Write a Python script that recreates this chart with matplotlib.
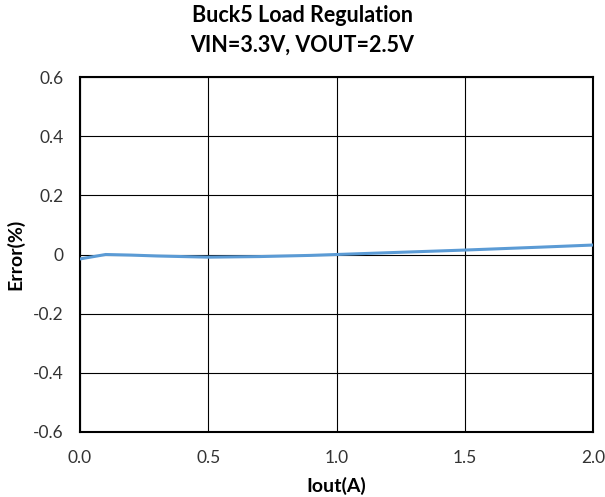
import matplotlib
matplotlib.use("Agg")
import matplotlib.pyplot as plt

plt.rcParams['font.family'] = ['Lato', 'DejaVu Sans']

iout = [0.0, 0.1, 0.2, 0.3, 0.5, 0.7, 0.9, 1.0, 1.2, 1.5, 1.8, 2.0]
error = [-0.015, 0.0, -0.002, -0.005, -0.009, -0.007, -0.003, 0.0, 0.006, 0.015, 0.025, 0.032]

fig = plt.figure(figsize=(6.05, 4.97), dpi=100)
ax = fig.add_axes([80/605, 65/497, 513/605, 355/497])

ax.plot(iout, error, color='#5B9BD5', lw=2.2, zorder=3)

ax.set_xlim(0, 2.0)
ax.set_ylim(-0.6, 0.6)
ax.set_xticks([0.0, 0.5, 1.0, 1.5, 2.0])
ax.set_xticklabels(['0.0', '0.5', '1.0', '1.5', '2.0'])
ax.set_yticks([-0.6, -0.4, -0.2, 0, 0.2, 0.4, 0.6])
ax.set_yticklabels(['-0.6', '-0.4', '-0.2', '0', '0.2', '0.4', '0.6'])
ax.grid(True, color='black', lw=0.8)
ax.tick_params(axis='x', length=0, labelsize=12.5, pad=13, labelcolor='#333333')
ax.tick_params(axis='y', length=0, labelsize=12.5, pad=12, labelcolor='#333333')
for s in ax.spines.values():
    s.set_linewidth(1.5)
    s.set_color('black')

ax.set_xlabel('Iout(A)', fontsize=14, fontweight='bold', labelpad=8)
ax.set_ylabel('Error(%)', fontsize=14, fontweight='bold', labelpad=6)
fig.suptitle('Buck5 Load Regulation\nVIN=3.3V, VOUT=2.5V', fontsize=15.5, fontweight='bold',
             y=0.99, linespacing=1.5)

fig.savefig('out.png', dpi=100)
